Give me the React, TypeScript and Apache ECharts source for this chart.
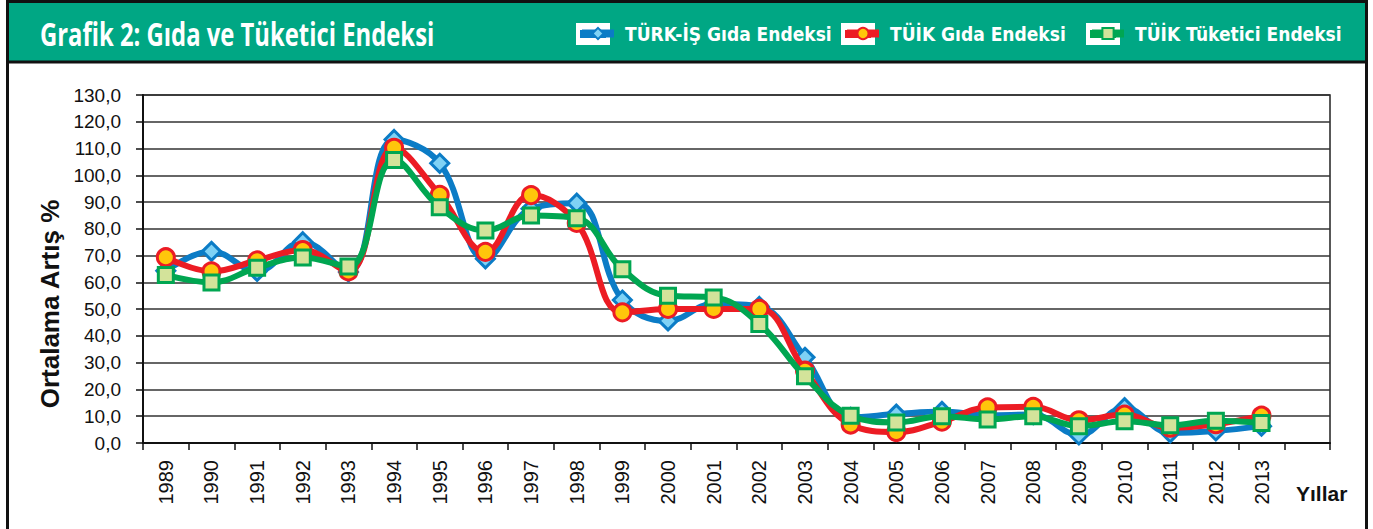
import React, { useEffect, useRef } from "react";
import * as echarts from "echarts";

const years = [
  "1989", "1990", "1991", "1992", "1993", "1994", "1995", "1996", "1997", "1998",
  "1999", "2000", "2001", "2002", "2003", "2004", "2005", "2006", "2007", "2008",
  "2009", "2010", "2011", "2012", "2013",
];
const categories = [...years, ""];

const turkIsFood = [
  64.3, 71.6, 64.1, 75.2, 63.9, 113.4, 104.5, 68.8, 87.5, 89.6,
  53.4, 45.6, 52.0, 51.0, 32.0, 9.6, 10.8, 11.8, 10.4, 10.6,
  3.0, 13.2, 3.8, 4.5, 6.3,
];
const tuikFood = [
  69.4, 64.1, 68.2, 72.1, 64.1, 110.3, 92.7, 71.4, 92.6, 82.2,
  48.8, 50.1, 50.1, 50.1, 27.0, 6.9, 4.1, 8.0, 13.3, 13.5,
  8.5, 10.6, 5.7, 7.0, 10.2,
];
const tuikConsumer = [
  62.8, 60.0, 65.5, 69.3, 65.9, 105.7, 88.1, 79.4, 85.0, 84.0,
  64.9, 55.0, 54.4, 44.5, 24.9, 10.2, 7.7, 10.0, 8.8, 10.0,
  6.3, 8.1, 6.6, 8.3, 7.5,
];

const seriesNames = ["TÜRK-İŞ Gıda Endeksi", "TÜİK Gıda Endeksi", "TÜİK Tüketici Endeksi"];
const titleText = "Grafik 2: Gıda ve Tüketici Endeksi";
const yAxisName = "Ortalama Artış %";
const xAxisName = "Yıllar";

const BLUE = "#0b7cc6";
const RED = "#ec1c24";
const GREEN = "#00a651";
const HEADER = "#00a784";
const AXIS_FONT = "'Liberation Sans', Arial, sans-serif";
const LEGEND_FONT = "'DejaVu Sans Condensed', sans-serif";

const legendIconX = [578, 843, 1088];
const seriesColors = [BLUE, RED, GREEN];

export default function App() {
  const ref = useRef<HTMLDivElement>(null);

  useEffect(() => {
    if (!ref.current) return;
    const chart = echarts.init(ref.current, undefined, { renderer: "svg" });

    const legendCommon = {
      top: 24,
      padding: 0,
      itemWidth: 32,
      itemHeight: 14,
      itemGap: 0,
      selectedMode: false,
      lineStyle: { width: 8 },
      textStyle: {
        color: "#ffffff",
        fontWeight: "bold",
        fontSize: 19,
        fontFamily: LEGEND_FONT,
        padding: [0, 0, 0, 6],
      },
    };

    const iconBoxes: any[] = [];
    legendIconX.forEach((x, i) => {
      iconBoxes.push({
        type: "rect",
        z: 1,
        shape: { x: x - 2, y: 23, width: 34, height: 22 },
        style: { fill: "#fff" },
      });
      iconBoxes.push({
        type: "rect",
        z: 2,
        shape: { x: x + 2, y: 30, width: 26, height: 8 },
        style: { fill: seriesColors[i] },
      });
    });

    chart.setOption({
      animation: false,
      backgroundColor: "#ffffff",
      graphic: [
        {
          type: "rect",
          z: 0,
          shape: { x: 8, y: 3, width: 1358, height: 58 },
          style: { fill: HEADER },
        },
        {
          type: "line",
          z: 1,
          shape: { x1: 8, y1: 62, x2: 1366, y2: 62 },
          style: { stroke: "#111", lineWidth: 3 },
        },
        {
          type: "rect",
          z: 1,
          shape: { x: 7.5, y: 1.5, width: 1359, height: 560 },
          style: { fill: "none", stroke: "#111", lineWidth: 3 },
        },
        ...iconBoxes,
        {
          type: "text",
          z: 2,
          x: 40,
          y: 34,
          scaleX: 0.745,
          style: {
            text: titleText,
            fill: "#ffffff",
            font: "bold 32px 'Open Sans', sans-serif",
            verticalAlign: "middle",
            align: "left",
          },
        },
        {
          type: "text",
          z: 2,
          x: 1296,
          y: 493,
          style: {
            text: xAxisName,
            fill: "#111",
            font: "bold 21px 'Liberation Sans', Arial, sans-serif",
            verticalAlign: "middle",
            align: "left",
          },
        },
      ],
      legend: [
        { ...legendCommon, left: legendIconX[0], data: [seriesNames[0]] },
        { ...legendCommon, left: legendIconX[1], data: [seriesNames[1]] },
        { ...legendCommon, left: legendIconX[2], data: [seriesNames[2]] },
      ],
      grid: {
        left: 143,
        right: 43,
        top: 95,
        bottom: 86,
        show: true,
        borderColor: "#222",
        borderWidth: 1.5,
        backgroundColor: "transparent",
      },
      xAxis: {
        type: "category",
        data: categories,
        boundaryGap: true,
        axisLine: { lineStyle: { color: "#111", width: 2 } },
        axisTick: {
          show: true,
          length: 7,
          inside: false,
          alignWithLabel: false,
          interval: 0,
          lineStyle: { color: "#111", width: 1.5 },
        },
        axisLabel: {
          rotate: 90,
          interval: 0,
          margin: 17,
          fontFamily: AXIS_FONT,
          fontSize: 20,
          color: "#111",
        },
        splitLine: { show: false },
      },
      yAxis: {
        type: "value",
        min: 0,
        max: 130,
        interval: 10,
        name: yAxisName,
        nameLocation: "middle",
        nameRotate: 90,
        nameGap: 80,
        nameTextStyle: {
          fontFamily: AXIS_FONT,
          fontWeight: "bold",
          fontSize: 26,
          color: "#111",
          padding: [0, 70, 0, 0],
        },
        axisLine: { show: true, lineStyle: { color: "#111", width: 2 } },
        axisTick: { show: true, length: 7, inside: false, lineStyle: { color: "#111", width: 1.5 } },
        axisLabel: {
          margin: 22,
          fontFamily: AXIS_FONT,
          fontSize: 19,
          color: "#111",
          formatter: (v: number) => v.toFixed(1).replace(".", ","),
        },
        splitLine: { show: true, lineStyle: { color: "#333", width: 1.5 } },
      },
      series: [
        {
          name: seriesNames[0],
          type: "line",
          data: turkIsFood,
          smooth: 0.4,
          symbol: "diamond",
          symbolSize: 18,
          z: 2,
          lineStyle: { color: BLUE, width: 6 },
          itemStyle: { color: "#7fd2f5", borderColor: BLUE, borderWidth: 3 },
        },
        {
          name: seriesNames[1],
          type: "line",
          data: tuikFood,
          smooth: 0.4,
          symbol: "circle",
          symbolSize: 17,
          z: 3,
          lineStyle: { color: RED, width: 6 },
          itemStyle: { color: "#ffc60b", borderColor: RED, borderWidth: 3 },
        },
        {
          name: seriesNames[2],
          type: "line",
          data: tuikConsumer,
          smooth: 0.4,
          symbol: "rect",
          symbolSize: 15,
          z: 4,
          lineStyle: { color: GREEN, width: 6 },
          itemStyle: { color: "#d3e39a", borderColor: GREEN, borderWidth: 3 },
        },
      ],
    });

    return () => chart.dispose();
  }, []);

  return (
    <div
      ref={ref}
      style={{ position: "fixed", left: 0, top: 0, width: 1373, height: 529 }}
    />
  );
}
